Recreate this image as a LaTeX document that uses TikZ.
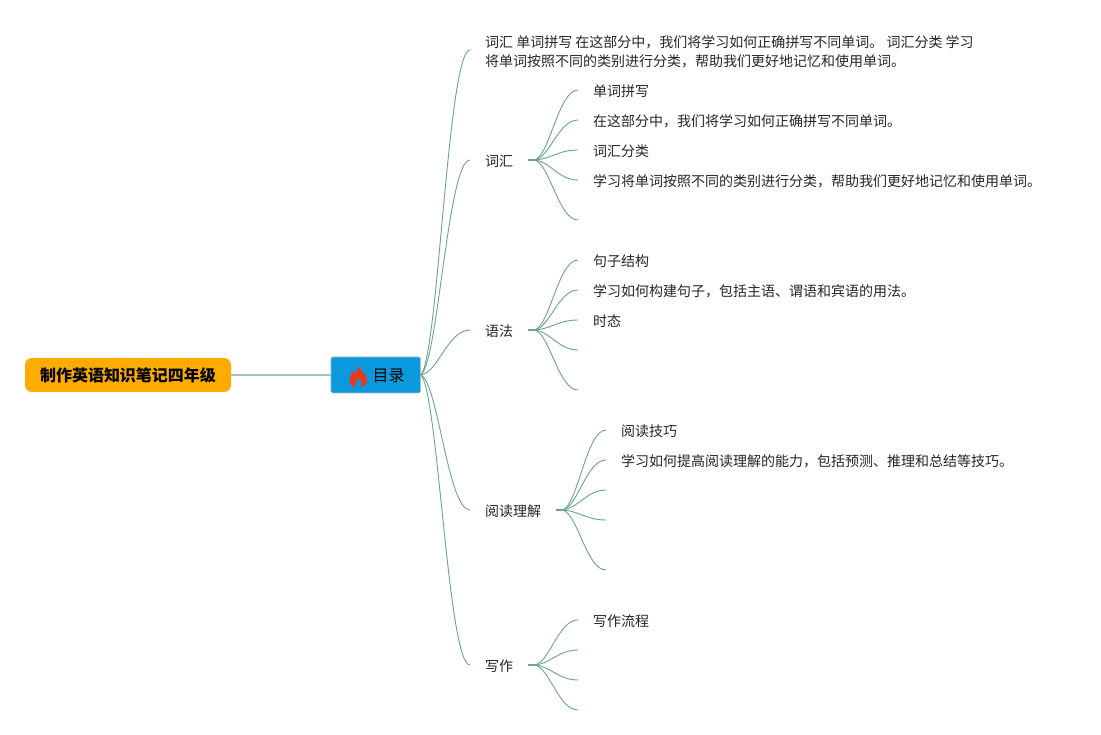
\documentclass[tikz,border=0pt]{standalone}
\usepackage{fontspec}
\setmainfont{Noto Sans CJK SC}
\usetikzlibrary{calc}
\definecolor{branchc}{HTML}{6BA592}
\definecolor{edgec}{HTML}{9CC6BE}
\definecolor{titlec}{HTML}{FFAB00}
\definecolor{tocc}{HTML}{0A99DC}
\definecolor{flamec}{HTML}{E8391B}
\newcommand{\fanfrom}[2]{%
  \foreach \t in {#2}{%
    \draw[branch] let \p1=(#1),\p2=(\t),\n1={\x1+0.35*(\x2-\x1)},\n2={\x1+0.55*(\x2-\x1)},\n3={\y1+0.05*(\y2-\y1)} in (\p1) .. controls (\n1,\n3) and (\n2,\y2) .. (\p2);%
  }}
\tikzset{
  x=1pt,y=-1pt,
  branch/.style={draw=branchc,line width=0.9pt},
  stub/.style={draw=branchc,line width=1.4pt},
  label/.style={anchor=west,inner xsep=15pt,inner ysep=0pt,font=\fontsize{14}{19}\selectfont,align=left,text=black!85},
  sitlow/.style={text height=16.4pt,text depth=3pt},
  titlebox/.style={fill=titlec,rounded corners=7pt,minimum width=206pt,minimum height=34pt,inner sep=0pt,font=\fontsize{16}{20}\selectfont\bfseries,text height=16.4pt,text depth=3pt},
  tocbox/.style={fill=tocc,draw=edgec,line width=0.6pt,rounded corners=1.5pt,minimum width=89.5pt,minimum height=36pt,inner sep=0pt,font=\fontsize{16}{20}\selectfont,text height=16.4pt,text depth=3pt},
}
\begin{document}
\begin{tikzpicture}
\useasboundingbox[fill=white] (0,0) rectangle (1101,735);
\node[titlebox] (title) at (128,375) {制作英语知识笔记四年级};
\node[tocbox] (toc) at (375.7,375) {\hspace*{26pt}目录};
\draw[draw=edgec,line width=1.2pt] (title.east) -- (toc.west);
\fill[flamec] (357.5,365) .. controls (358.5,370) and (367,373) .. (367,380)
  .. controls (367,384) and (364,387) .. (361,387)
  .. controls (363,384) and (361,380) .. (358.3,378)
  .. controls (356.5,380.5) and (354,384) .. (356,387)
  .. controls (352,387) and (349.5,384) .. (349.5,380)
  .. controls (349.5,376) and (352,374) .. (353,371)
  .. controls (354,373) and (355,373.5) .. (355.5,373)
  .. controls (357,371) and (358,368) .. (357.5,365) -- cycle;

\node[label] (m0) at (470,51.5) {词汇 单词拼写 在这部分中，我们将学习如何正确拼写不同单词。 词汇分类 学习\\将单词按照不同的类别进行分类，帮助我们更好地记忆和使用单词。};
\coordinate (m0end) at (470,50);
\node[label,sitlow] (m1) at (470,160) {词汇};
\node[label,sitlow] (m2) at (470,330) {语法};
\node[label,sitlow] (m3) at (470,510) {阅读理解};
\node[label,sitlow] (m4) at (470,665) {写作};

\node[label,sitlow] (a1) at (578,90) {单词拼写};
\node[label,sitlow] (a2) at (578,120) {在这部分中，我们将学习如何正确拼写不同单词。};
\node[label,sitlow] (a3) at (578,150) {词汇分类};
\node[label,sitlow] (a4) at (578,180) {学习将单词按照不同的类别进行分类，帮助我们更好地记忆和使用单词。};
\coordinate (a5) at (578,220);

\node[label,sitlow] (b1) at (578,260) {句子结构};
\node[label,sitlow] (b2) at (578,290) {学习如何构建句子，包括主语、谓语和宾语的用法。};
\node[label,sitlow] (b3) at (578,320) {时态};
\coordinate (b4) at (578,350);
\coordinate (b5) at (578,390);

\node[label,sitlow] (c1) at (606,430) {阅读技巧};
\node[label,sitlow] (c2) at (606,460) {学习如何提高阅读理解的能力，包括预测、推理和总结等技巧。};
\coordinate (c3) at (606,490);
\coordinate (c4) at (606,520);
\coordinate (c5) at (606,570);

\node[label,sitlow] (d1) at (578,620) {写作流程};
\coordinate (d2) at (578,650);
\coordinate (d3) at (578,680);
\coordinate (d4) at (578,710);

\fanfrom{toc.east}{m0end,m1.west,m2.west,m3.west,m4.west}
\draw[stub] (m1.east) -- ++(6,0) coordinate (s1);
\draw[stub] (m2.east) -- ++(6,0) coordinate (s2);
\draw[stub] (m3.east) -- ++(6,0) coordinate (s3);
\draw[stub] (m4.east) -- ++(6,0) coordinate (s4);
\fanfrom{s1}{a1.west,a2.west,a3.west,a4.west,a5}
\fanfrom{s2}{b1.west,b2.west,b3.west,b4,b5}
\fanfrom{s3}{c1.west,c2.west,c3,c4,c5}
\fanfrom{s4}{d1.west,d2,d3,d4}
\end{tikzpicture}
\end{document}
